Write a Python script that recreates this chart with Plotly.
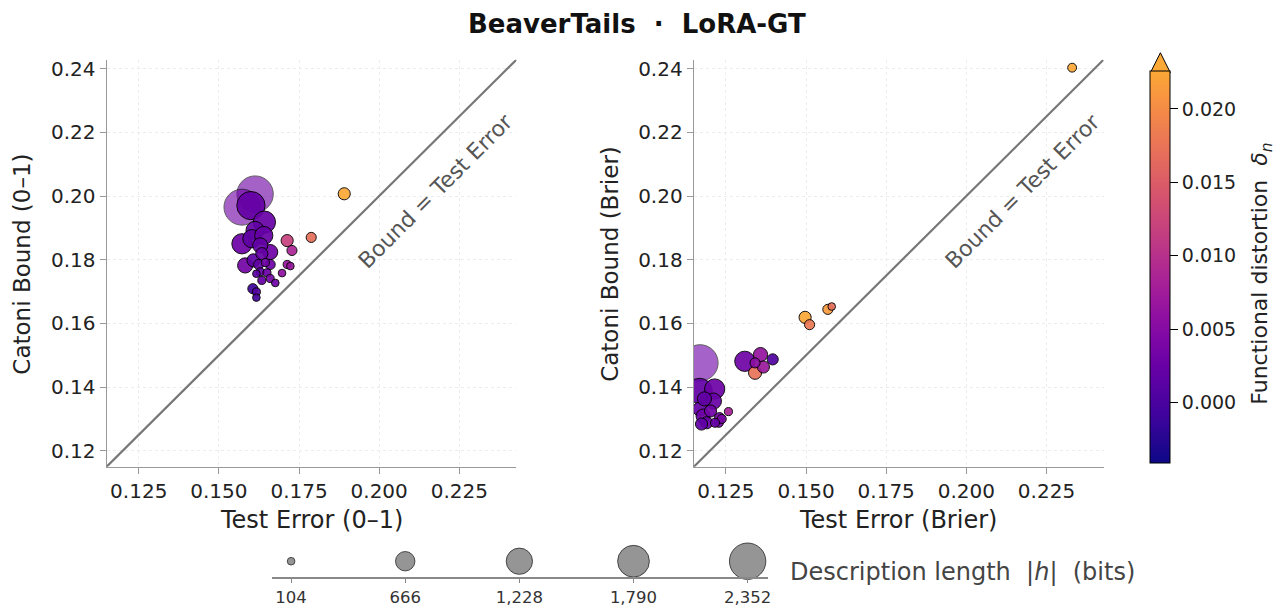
import numpy as np
import plotly.graph_objects as go
import plotly.colors as pc

# ---- BeaverTails / LoRA-GT: Catoni bound vs. test error ----
# Left panel: 0-1 loss
left_err = [0.1613, 0.1572, 0.1600, 0.1642, 0.1613, 0.1572, 0.1603, 0.1640, 0.1660, 0.1629,
            0.1582, 0.1608, 0.1634, 0.1660, 0.1624, 0.1645, 0.1629, 0.1650, 0.1617, 0.1634,
            0.1660, 0.1676, 0.1606, 0.1617, 0.1617, 0.1713, 0.1728, 0.1713, 0.1723, 0.1697,
            0.1788, 0.1891]
left_bound = [0.2006, 0.1965, 0.1970, 0.1918, 0.1892, 0.1850, 0.1866, 0.1876, 0.1824, 0.1845,
              0.1782, 0.1798, 0.1819, 0.1785, 0.1785, 0.1791, 0.1762, 0.1759, 0.1756, 0.1735,
              0.1741, 0.1727, 0.1709, 0.1699, 0.1681, 0.1860, 0.1829, 0.1785, 0.1780, 0.1758,
              0.1870, 0.2007]
left_bits = [2352, 2300, 1420, 880, 590, 730, 590, 590, 410, 410,
             410, 307, 262, 182, 182, 116, 116, 116, 104, 116,
             116, 104, 182, 116, 104, 262, 182, 116, 104, 104,
             182, 262]
left_delta = [0.0030, 0.0032, 0.0022, 0.0025, 0.0020, 0.0028, 0.0018, 0.0024, 0.0030, 0.0020,
              0.0034, 0.0016, 0.0022, 0.0028, 0.0019, 0.0031, 0.0021, 0.0026, 0.0015, 0.0024,
              0.0036, 0.0030, -0.0008, 0.0008, -0.0004, 0.0120, 0.0085, 0.0068, 0.0066, 0.0060,
              0.0170, 0.0240]

# Right panel: Brier loss
right_err = [0.2330, 0.1497, 0.1511, 0.1568, 0.1580, 0.1309, 0.1358, 0.1341, 0.1367, 0.1341,
             0.1396, 0.1169, 0.1168, 0.1215, 0.1211, 0.1169, 0.1179, 0.1190, 0.1174, 0.1230,
             0.1237, 0.1258, 0.1216, 0.1183, 0.1202, 0.1228]
right_bound = [0.2403, 0.1619, 0.1596, 0.1644, 0.1653, 0.1481, 0.1502, 0.1476, 0.1463, 0.1445,
               0.1487, 0.1476, 0.1388, 0.1394, 0.1356, 0.1331, 0.1309, 0.1288, 0.1284, 0.1304,
               0.1300, 0.1323, 0.1288, 0.1363, 0.1325, 0.1288]
right_bits = [140, 262, 182, 182, 104, 727, 356, 182, 262, 307,
              220, 2352, 1135, 727, 465, 356, 356, 262, 262, 182,
              147, 116, 147, 356, 262, 147]
right_delta = [0.0230, 0.0225, 0.0180, 0.0215, 0.0170, 0.0030, 0.0065, 0.0055, 0.0070, 0.0175,
               0.0005, 0.0030, 0.0020, 0.0028, 0.0025, 0.0022, 0.0030, 0.0026, 0.0018, 0.0034,
               0.0040, 0.0080, 0.0024, 0.0019, 0.0032, 0.0036]

# Size legend reference values (bits)
legend_bits = [104, 666, 1228, 1790, 2352]
legend_labels = ["104", "666", "1,228", "1,790", "2,352"]

axis_ticks_x = [0.125, 0.150, 0.175, 0.200, 0.225]
axis_ticks_y = [0.12, 0.14, 0.16, 0.18, 0.20, 0.22, 0.24]
cbar_ticks = [0.000, 0.005, 0.010, 0.015, 0.020]

# ---- styling ----
W, H = 1287, 607
FONT = "DejaVu Sans"
D_MIN, D_MAX = -0.0041, 0.0226
AX_RANGE = [0.115, 0.2428]
SIZE_K = 0.75  # marker diameter (px) per sqrt(bit)

# plasma, truncated before the yellow end
stops = np.linspace(0, 0.8, 17)
cols = pc.sample_colorscale("Plasma", list(stops))
cscale = [[i / (len(cols) - 1), c] for i, c in enumerate(cols)]
top_color = cols[-1]


def px_x(p):
    return p / W


def px_y(p):
    return 1 - p / H


def diam(bits):
    return SIZE_K * np.sqrt(np.asarray(bits, dtype=float))


def scatter(err, bound, bits, delta, xa, ya, show_scale):
    order = np.argsort(-np.asarray(bits))
    err = np.asarray(err)[order]
    bound = np.asarray(bound)[order]
    bits = np.asarray(bits)[order]
    delta = np.asarray(delta)[order]
    opac = np.where(bits > 1800, 0.62, 0.92)
    return go.Scatter(
        x=err, y=bound, mode="markers", xaxis=xa, yaxis=ya, showlegend=False,
        hoverinfo="skip", cliponaxis=True,
        marker=dict(
            size=diam(bits), color=delta, colorscale=cscale, cmin=D_MIN, cmax=D_MAX,
            opacity=opac, line=dict(color="black", width=1),
            showscale=show_scale,
            colorbar=dict(
                x=px_x(1154), xanchor="left", xpad=0, ypad=0,
                y=px_y(462), yanchor="bottom", lenmode="pixels", len=392,
                thickness=20, outlinecolor="black", outlinewidth=1,
                tickvals=cbar_ticks, ticktext=[f"{v:.3f}" for v in cbar_ticks],
                ticks="outside", ticklen=8, tickcolor="black",
                tickfont=dict(family=FONT, size=19, color="#222"),
            ) if show_scale else None,
        ),
    )


fig = go.Figure()
fig.add_trace(scatter(left_err, left_bound, left_bits, left_delta, "x", "y", True))
fig.add_trace(scatter(right_err, right_bound, right_bits, right_delta, "x2", "y2", False))

# size legend strip
fig.add_trace(go.Scatter(
    x=list(range(len(legend_bits))), y=[0] * len(legend_bits), mode="markers",
    xaxis="x3", yaxis="y3", showlegend=False, hoverinfo="skip", cliponaxis=False,
    marker=dict(size=diam(legend_bits), color="#8a8a8a", opacity=0.9,
                line=dict(color="#222", width=0.9)),
))

common_x = dict(
    range=AX_RANGE, tickvals=axis_ticks_x, ticktext=[f"{v:.3f}" for v in axis_ticks_x],
    showline=True, linecolor="#999", linewidth=1.3, ticks="outside", ticklen=6,
    tickcolor="#999", showgrid=True, gridcolor="#ececec", griddash="dot", gridwidth=1,
    zeroline=False, tickfont=dict(family=FONT, size=20, color="#222"), fixedrange=True,
)
common_y = dict(common_x)
common_y.update(tickvals=axis_ticks_y, ticktext=[f"{v:.2f}" for v in axis_ticks_y])

dom_y = [px_y(466), px_y(57)]
fig.update_layout(
    width=W, height=H, margin=dict(l=0, r=0, t=0, b=0),
    paper_bgcolor="white", plot_bgcolor="white",
    font=dict(family=FONT, color="#222"),
    xaxis=dict(common_x, domain=[px_x(107), px_x(518)], anchor="y"),
    yaxis=dict(common_y, domain=dom_y, anchor="x"),
    xaxis2=dict(common_x, domain=[px_x(696), px_x(1107)], anchor="y2"),
    yaxis2=dict(common_y, domain=dom_y, anchor="x2"),
    xaxis3=dict(domain=[px_x(273), px_x(770)], anchor="y3", range=[-0.166, 4.175],
                tickvals=list(range(len(legend_bits))), ticktext=legend_labels,
                showline=True, linecolor="#888", linewidth=1.5, ticks="outside",
                ticklen=4, tickcolor="#888", showgrid=False, zeroline=False,
                tickfont=dict(family=FONT, size=16.5, color="#333"), fixedrange=True),
    yaxis3=dict(domain=[px_y(577), px_y(545)], anchor="x3", range=[-1, 1],
                visible=False, fixedrange=True),
)

# y = x reference lines and their labels
for xr, yr in (("x", "y"), ("x2", "y2")):
    fig.add_shape(type="line", xref=xr, yref=yr, x0=AX_RANGE[0], y0=AX_RANGE[0],
                  x1=AX_RANGE[1], y1=AX_RANGE[1], line=dict(color="#777", width=2.2))
    fig.add_annotation(x=0.2178, y=0.2016, xref=xr, yref=yr, text="Bound = Test Error",
                       textangle=-45, showarrow=False,
                       font=dict(family=FONT, size=22, color="#555"))


def paper_text(txt, cx, cy, size, color="#222", angle=0, xanchor="center"):
    fig.add_annotation(x=px_x(cx), y=px_y(cy), xref="paper", yref="paper", text=txt,
                       textangle=angle, showarrow=False, xanchor=xanchor, yanchor="middle",
                       font=dict(family=FONT, size=size, color=color))


# axis titles
paper_text("Test Error (0–1)", 312, 520, 24)
paper_text("Test Error (Brier)", 901, 520, 24)
paper_text("Catoni Bound (0–1)", 22, 262, 23, angle=-90)
paper_text("Catoni Bound (Brier)", 612, 262, 23, angle=-90)

# figure title
paper_text("<b>BeaverTails  ·  LoRA-GT</b>", 639, 21, 26, color="#111")

# colour bar title
paper_text("Functional distortion  <i>δ<sub>n</sub></i>", 1266, 272, 22, angle=-90)

# size legend caption
paper_text("Description length  |<i>h</i>|  (bits)", 790, 572, 24, color="#444",
           xanchor="left")

# extension arrow on top of the colour bar
tri = (f"M {px_x(1154)},{px_y(70)} L {px_x(1164)},{px_y(50)} "
       f"L {px_x(1174)},{px_y(70)} Z")
fig.add_shape(type="path", xref="paper", yref="paper", path=tri,
              fillcolor=top_color, line=dict(color="black", width=1))

fig.write_html("out.html")
